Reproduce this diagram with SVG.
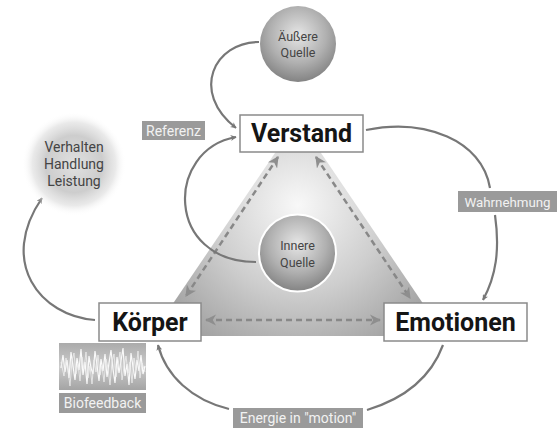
<svg xmlns="http://www.w3.org/2000/svg" width="560" height="428" viewBox="0 0 560 428">
<defs>
<style>
.box{fill:#fff;stroke:#8a8a8a;stroke-width:1.5}
.big{font-family:Roboto,"DejaVu Sans",sans-serif;font-weight:bold;font-size:25px;fill:#151515;text-anchor:middle}
.lab{fill:#9a9a9a}
.labt{font-family:Roboto,"DejaVu Sans",sans-serif;font-size:14px;fill:#f2f2f2;text-anchor:middle}
.ct{font-family:Roboto,"DejaVu Sans",sans-serif;font-size:12.5px;fill:#444;text-anchor:middle}
.vt{font-family:Roboto,"DejaVu Sans",sans-serif;font-size:14px;fill:#444;text-anchor:middle}
.conn{fill:none;stroke:#777;stroke-width:2.2}
.dash{fill:none;stroke:#888;stroke-width:2.5;stroke-dasharray:6 4}
</style>
<marker id="ah" viewBox="0 0 10 10" refX="9" refY="5" markerWidth="6" markerHeight="6" orient="auto-start-reverse" markerUnits="userSpaceOnUse">
<path d="M0,0 L10,5 L0,10 L3,5 z" fill="#777"/>
</marker>
<marker id="ad" viewBox="0 0 10 10" refX="9" refY="5" markerWidth="4.5" markerHeight="4.5" orient="auto-start-reverse">
<path d="M0,0 L10,5 L0,10 L3,5 z" fill="#8e8e8e"/>
</marker>
<radialGradient id="tri" gradientUnits="userSpaceOnUse" cx="298" cy="205" r="175">
<stop offset="0" stop-color="#f8f8f8"/>
<stop offset="0.5" stop-color="#cecece"/>
<stop offset="1" stop-color="#9a9a9a"/>
</radialGradient>
<radialGradient id="sph" cx="0.5" cy="0.38" r="0.62">
<stop offset="0" stop-color="#e6e6e6"/>
<stop offset="0.6" stop-color="#b0b0b0"/>
<stop offset="1" stop-color="#838383"/>
</radialGradient>
<radialGradient id="blob" cx="0.5" cy="0.5" r="0.5">
<stop offset="0" stop-color="#e0e0e0"/>
<stop offset="0.55" stop-color="#cdcdcd"/>
<stop offset="0.8" stop-color="#e4e4e4" stop-opacity="0.8"/>
<stop offset="1" stop-color="#ffffff" stop-opacity="0"/>
</radialGradient>
<linearGradient id="wave" x1="0" y1="0" x2="0" y2="1">
<stop offset="0" stop-color="#ababab"/>
<stop offset="0.5" stop-color="#cbcbcb"/>
<stop offset="1" stop-color="#a4a4a4"/>
</linearGradient>
</defs>
<rect width="560" height="428" fill="#fff"/>

<g id="triangle">
<polygon points="298,119 151,336 445,336" fill="url(#tri)"/>
</g>

<g id="connectors">
<path class="dash" d="M278,157 L186,296" marker-start="url(#ad)" marker-end="url(#ad)"/>
<path class="dash" d="M316,157 L410,298" marker-start="url(#ad)" marker-end="url(#ad)"/>
<path class="dash" d="M206,320 L380,320" marker-start="url(#ad)" marker-end="url(#ad)"/>
<path class="conn" d="M259,42 C214,42 190,92 236,128" marker-end="url(#ah)"/>
<path class="conn" d="M256,262 C165,262 165,150 236,137" marker-end="url(#ah)"/>
<path class="conn" d="M366,130 C425,118 482,140 490,188"/>
<path class="conn" d="M495,215 C500,250 496,276 483,300" marker-end="url(#ah)"/>
<path class="conn" d="M95,320 C40,316 -2,262 42,198" marker-end="url(#ah)"/>
<path class="conn" d="M229,409 C192,400 166,376 158,345" marker-end="url(#ah)"/>
<path class="conn" d="M367,410 C400,400 430,380 443,345"/>
</g>

<g id="aeussere-quelle">
<circle cx="298" cy="44" r="38" fill="url(#sph)"/>
<text class="ct" x="298" y="41">Äußere</text>
<text class="ct" x="298" y="57">Quelle</text>
</g>

<g id="innere-quelle">
<circle cx="297.5" cy="253" r="38.5" fill="url(#sph)" stroke="#fff" stroke-width="2"/>
<text class="ct" x="297.5" y="250">Innere</text>
<text class="ct" x="297.5" y="267">Quelle</text>
</g>

<g id="verhalten">
<circle cx="74" cy="164" r="52" fill="url(#blob)"/>
<text class="vt" x="74" y="152">Verhalten</text>
<text class="vt" x="74" y="169">Handlung</text>
<text class="vt" x="74" y="186">Leistung</text>
</g>

<g id="verstand">
<rect class="box" x="240" y="115" width="123" height="37"/>
<text class="big" x="301.5" y="142">Verstand</text>
</g>

<g id="koerper">
<rect class="box" x="99" y="303" width="102" height="38"/>
<text class="big" x="150" y="331">Körper</text>
</g>

<g id="emotionen">
<rect class="box" x="384" y="303" width="143" height="38"/>
<text class="big" x="455.5" y="331">Emotionen</text>
</g>

<g id="referenz">
<rect class="lab" x="142" y="121" width="63" height="19"/>
<text class="labt" x="173.5" y="135.5">Referenz</text>
</g>

<g id="wahrnehmung">
<rect class="lab" x="458" y="191" width="99" height="21"/>
<text class="labt" x="507.5" y="206.5" style="font-size:13.3px">Wahrnehmung</text>
</g>

<g id="energie">
<rect class="lab" x="233" y="408" width="130" height="20"/>
<text class="labt" x="298" y="423">Energie in "motion"</text>
</g>

<g id="biofeedback">
<rect x="59" y="343" width="87" height="47" fill="url(#wave)"/>
<polyline fill="none" stroke="#fff" stroke-width="1.2" stroke-opacity="0.9" points="61,368 63,355 65,372 67,360 69,378 71,352 73,366 75,380 77,358 79,370 81,349 83,375 85,362 87,384 89,356 91,368 93,374 95,351 97,365 99,381 101,359 103,371 105,354 107,377 109,363 111,350 113,369 115,383 117,357 119,373 121,361 123,348 125,376 127,364 129,385 131,353 133,367 135,379 137,360 139,371 141,355 143,374 145,366"/>
<polyline fill="none" stroke="#eee" stroke-width="1" stroke-opacity="0.8" points="61,362 64,376 66,358 68,370 70,386 72,361 74,353 76,374 78,364 80,381 82,357 84,369 86,352 88,378 90,366 92,384 94,360 96,372 98,355 100,375 102,366 104,382 106,359 108,368 110,385 112,362 114,354 116,377 118,365 120,352 122,380 124,367 126,356 128,373 130,362 132,383 134,358 136,370 138,351 140,378 142,363 145,372"/>
<rect class="lab" x="59" y="393" width="87" height="20"/>
<text class="labt" x="102.5" y="408">Biofeedback</text>
</g>
</svg>
